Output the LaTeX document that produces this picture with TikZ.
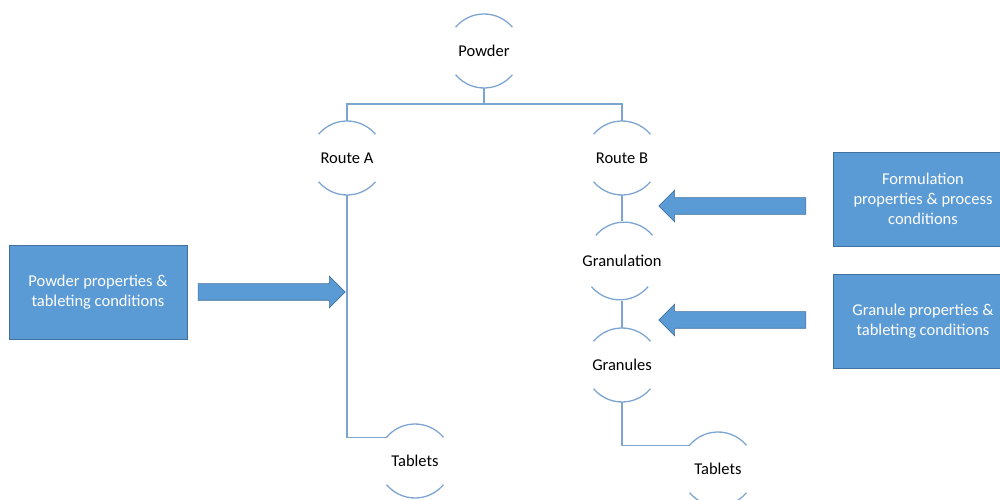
\documentclass[tikz,border=0pt]{standalone}
\usepackage{fontspec}
\setmainfont{Carlito}
\usepackage{xcolor}
\usepackage{tikz}
\usetikzlibrary{arrows.meta,positioning,calc,shapes.arrows}
\definecolor{boxblue}{RGB}{91,155,213}
\definecolor{boxedge}{RGB}{65,113,156}
\definecolor{linkblue}{RGB}{125,165,210}

\begin{document}
\begin{tikzpicture}[x=1pt,y=1pt,>=Latex,
  stage/.style={circle,minimum size=74pt,inner sep=0pt,outer sep=0pt,font=\fontsize{16.5}{20}\selectfont},
  link/.style={linkblue,line width=1.3pt},
  infobox/.style={rectangle,fill=boxblue,draw=boxedge,line width=0.8pt,text=white,align=center,
    minimum height=94pt,font=\fontsize{16.5}{20}\selectfont},
  blockarr/.style={single arrow,fill=boxblue,draw=boxedge,line width=0.6pt,inner xsep=0pt,inner ysep=8pt,
    single arrow head extend=7.5pt,minimum height=147pt}]
  \clip (0,0) rectangle (1000,500);
  \node[stage] (pw) at (484,449) {Powder};
  \node[stage] (ra) at (347,342) {Route A};
  \node[stage] (rb) at (622,342) {Route B};
  \node[stage] (gr) at (622,239) {Granulation};
  \node[stage] (gs) at (622,135) {Granules};
  \node[stage] (ta) at (415,39) {Tablets};
  \node[stage] (tb) at (718,31) {Tablets};
  \foreach \n in {pw,ra,rb,gr,gs,ta,tb}{
    \draw[link] (\n.40) arc[start angle=40,end angle=140,radius=37pt];
    \draw[link] (\n.220) arc[start angle=220,end angle=320,radius=37pt];
  }
  \coordinate (bar) at ($(pw.south)+(0,-16)$);
  \draw[link] (pw.south) -- (bar) -| (ra.north);
  \draw[link] (bar) -| (rb.north);
  \draw[link] (ra.south) |- (ta.140);
  \draw[link] (rb.south) -- (gr.north);
  \draw[link] (gr.south) -- (gs.north);
  \draw[link] (gs.south) |- (tb.140);
  \node[infobox,minimum width=178pt] (pbox) at (98,208) {Powder properties \&\\tableting conditions};
  \node[infobox,minimum width=180pt] (fbox) at (923,301) {Formulation\\properties \& process\\conditions};
  \node[infobox,minimum width=180pt] (gbox) at (923,179) {Granule properties \&\\tableting conditions};
  \node[blockarr] (parr) at (267.5,208) {};
  \node[blockarr,shape border rotate=180] (farr) at (736.5,294) {};
  \node[blockarr,shape border rotate=180] (garr) at (736.5,180) {};
\end{tikzpicture}
\end{document}
